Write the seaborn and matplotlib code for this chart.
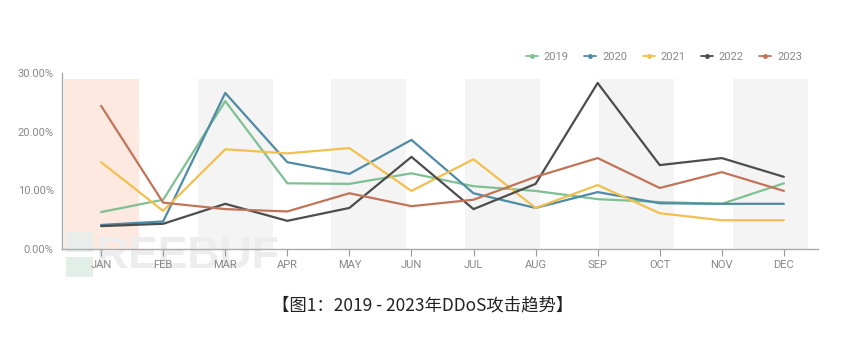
import matplotlib
matplotlib.use("Agg")
import matplotlib.pyplot as plt
from matplotlib.patches import Rectangle
from matplotlib.lines import Line2D
import seaborn as sns
import pandas as pd

months = ["JAN", "FEB", "MAR", "APR", "MAY", "JUN", "JUL", "AUG", "SEP", "OCT", "NOV", "DEC"]
years = ["2019", "2020", "2021", "2022", "2023"]

share_2019 = [6.3, 8.4, 25.2, 11.2, 11.1, 12.9, 10.7, 9.9, 8.5, 8.0, 7.7, 11.2]
share_2020 = [4.1, 4.7, 26.6, 14.8, 12.8, 18.6, 9.5, 7.0, 9.7, 7.8, 7.7, 7.7]
share_2021 = [14.8, 6.5, 17.0, 16.3, 17.2, 9.9, 15.3, 7.0, 10.9, 6.1, 4.9, 4.9]
share_2022 = [3.9, 4.3, 7.7, 4.8, 7.0, 15.7, 6.8, 11.1, 28.3, 14.3, 15.5, 12.3]
share_2023 = [24.4, 7.9, 6.8, 6.4, 9.5, 7.3, 8.4, 12.3, 15.5, 10.4, 13.1, 9.9]

y_ticks = [0, 10, 20, 30]
caption = "【图1：2019 - 2023年DDoS攻击趋势】"

palette = ["#7fc092", "#4f8ba5", "#f2c04f", "#4d4d4d", "#c27458"]

series = [share_2019, share_2020, share_2021, share_2022, share_2023]
df = pd.DataFrame({
    "pos": [i for _ in years for i in range(len(months))],
    "year": [y for y in years for _ in months],
    "share": [v for s in series for v in s],
})

sns.set_theme(style="white")
plt.rcParams["font.family"] = ["Roboto", "DejaVu Sans"]

fig = plt.figure(figsize=(8.46, 3.41), dpi=100)
ax = fig.add_axes([62 / 846, 1 - 249 / 341, (818 - 62) / 846, (249 - 73) / 341])
ax.set_axisbelow(True)

# alternating background bands behind the series
band_w = 1.21
for k in range(6):
    x0 = -0.60 + k * 2.155
    color = "#fde9df" if k == 0 else "#f4f4f4"
    ax.add_patch(Rectangle((x0, 0), band_w, 29.0, facecolor=color,
                           edgecolor="none", zorder=0.05))

# faint watermark, kept under the lines and tick labels
ax.text(96 / 846, 1 - 257 / 341, "REEBUF", fontsize=32, fontweight="bold",
        color="#ededed", va="center", ha="left", zorder=0.2,
        family=["Liberation Sans", "DejaVu Sans"],
        transform=fig.transFigure, clip_on=False)
for top, col in [(232, "#e9eeeb"), (257, "#e2efe8")]:
    ax.add_patch(Rectangle((66 / 846, 1 - (top + 20) / 341), 27 / 846, 20 / 341,
                           transform=fig.transFigure, facecolor=col,
                           edgecolor="none", zorder=0.2, clip_on=False))

sns.lineplot(data=df, x="pos", y="share", hue="year", hue_order=years,
             palette=palette, linewidth=1.6, ax=ax, legend=False, zorder=3)

ax.set_xlim(-0.63, 11.55)
ax.set_ylim(0, 30)
ax.set_xticks(range(len(months)))
ax.set_xticklabels(months)
ax.set_yticks(y_ticks)
ax.set_yticklabels([f"{v:.2f}%" for v in y_ticks])
ax.set_xlabel("")
ax.set_ylabel("")
ax.tick_params(axis="x", colors="#999999", labelsize=8, length=5, width=0.8,
               direction="out", pad=3, bottom=True, labelcolor="#888888")
ax.tick_params(axis="y", length=0, labelsize=8, pad=6, labelcolor="#8a8a8a")
for side in ["top", "right"]:
    ax.spines[side].set_visible(False)
for side in ["left", "bottom"]:
    ax.spines[side].set_color("#aaaaaa")
    ax.spines[side].set_linewidth(1.0)

# legend row at the top right
handles = [Line2D([0], [0], color=c, lw=1.3, marker="o", markersize=2.5)
           for c in palette]
leg = fig.legend(handles, years, loc="center right", ncol=5, frameon=False,
                 bbox_to_anchor=(812 / 846, 1 - 57 / 341), fontsize=8,
                 handlelength=1.1, handletextpad=0.5, columnspacing=1.4)
for t in leg.get_texts():
    t.set_color("#888888")

fig.text(0.5, 1 - 305 / 341, caption, ha="center", va="center", fontsize=12.5,
         color="#222222", family=["Noto Sans CJK SC", "DejaVu Sans"])

fig.savefig("out.png", dpi=100)
